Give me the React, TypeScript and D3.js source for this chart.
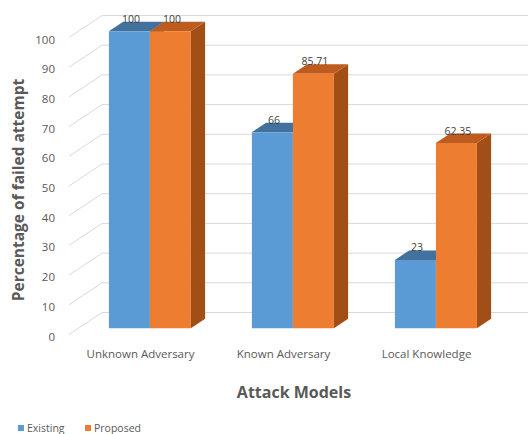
import React from "react";
import * as d3 from "d3";

const categories = ["Unknown Adversary", "Known Adversary", "Local Knowledge"];
const seriesNames = ["Existing", "Proposed"];
const existing = [100, 66, 23];
const proposed = [100, 85.71, 62.35];
const valueLabels = [["100", "66", "23"], ["100", "85.71", "62.35"]];
const yTicks = [0, 10, 20, 30, 40, 50, 60, 70, 80, 90, 100];

const W = 528;
const H = 434;
const DX = 33;
const DY = -22;
const D0 = 0.285;
const D1 = 0.715;

const frontColors = ["#5B9BD5", "#ED7D31"];
const topColors = ["#41719C", "#BE5B1E"];
const sideColors = ["#3A6591", "#A24E17"];

export default function App() {
  const x0 = d3
    .scaleBand<string>()
    .domain(categories)
    .range([69, 498])
    .paddingInner(61 / 143)
    .paddingOuter(61 / 143 / 2);
  const x1 = d3.scaleBand<string>().domain(seriesNames).range([0, x0.bandwidth()]);
  const y = d3.scaleLinear().domain([0, 100]).range([334.5, 37.5]);
  const data = [existing, proposed];

  const P = (x: number, yy: number, d: number) => [x + DX * d, yy + DY * d];
  const pts = (arr: number[][]) => arr.map((p) => p.join(",")).join(" ");

  const wallX0 = 69;
  const bars: React.ReactNode[] = [];
  const labels: React.ReactNode[] = [];
  categories.forEach((c, ci) => {
    seriesNames.forEach((s, si) => {
      const v = data[si][ci];
      const xl = (x0(c) as number) + (x1(s) as number);
      const xr = xl + x1.bandwidth();
      const yt = y(v);
      const yb = y(0);
      const fTL = P(xl, yt, D0);
      const fTR = P(xr, yt, D0);
      const fBR = P(xr, yb, D0);
      const fBL = P(xl, yb, D0);
      const bTL = P(xl, yt, D1);
      const bTR = P(xr, yt, D1);
      const bBR = P(xr, yb, D1);
      bars.push(
        <g key={`${c}-${s}`}>
          <polygon points={pts([fTR, bTR, bBR, fBR])} fill={sideColors[si]} />
          <polygon points={pts([fTL, bTL, bTR, fTR])} fill={topColors[si]} />
          <polygon points={pts([fTL, fTR, fBR, fBL])} fill={frontColors[si]} />
        </g>
      );
      labels.push(
        <text
          key={`l-${c}-${s}`}
          x={(fTL[0] + fTR[0]) / 2 + 1.5}
          y={fTL[1] - 8.5}
          textAnchor="middle"
          fontSize={10.5}
          fill="#404040"
        >
          {valueLabels[si][ci]}
        </text>
      );
    });
  });

  return (
    <svg
      width={W}
      height={H}
      style={{ position: "absolute", left: 0, top: 0, background: "#fff" }}
      fontFamily="'Open Sans', sans-serif"
    >
      <rect width={W} height={H} fill="#fff" />
      {yTicks.map((t) => {
        const a = P(wallX0, y(t), 0);
        const b = P(wallX0, y(t), 1);
        return (
          <g key={t}>
            <line x1={a[0]} y1={a[1]} x2={b[0]} y2={b[1]} stroke="#d9d9d9" strokeWidth={1} />
            <line x1={b[0]} y1={b[1]} x2={W} y2={b[1]} stroke="#d9d9d9" strokeWidth={1} />
            <text x={55} y={a[1] + 6} textAnchor="end" fontSize={11.5} fill="#595959">
              {t}
            </text>
          </g>
        );
      })}
      {bars}
      {labels}
      {categories.map((c) => (
        <text
          key={c}
          x={(x0(c) as number) + x0.bandwidth() / 2}
          y={358}
          textAnchor="middle"
          fontSize={11.5}
          fill="#595959"
        >
          {c}
        </text>
      ))}
      <text x={294} y={398} textAnchor="middle" fontSize={16} fontWeight="bold" fill="#595959">
        Attack Models
      </text>
      <text
        transform="translate(24,190) rotate(-90)"
        textAnchor="middle"
        fontSize={15.5}
        fontWeight="bold"
        fill="#595959"
      >
        Percentage of failed attempt
      </text>
      {seriesNames.map((s, i) => {
        const lx = [18, 85][i];
        return (
          <g key={s}>
            <rect x={lx} y={425} width={6} height={6} fill={frontColors[i]} />
            <text x={lx + 9} y={431.5} fontSize={10.5} fill="#595959">
              {s}
            </text>
          </g>
        );
      })}
    </svg>
  );
}
